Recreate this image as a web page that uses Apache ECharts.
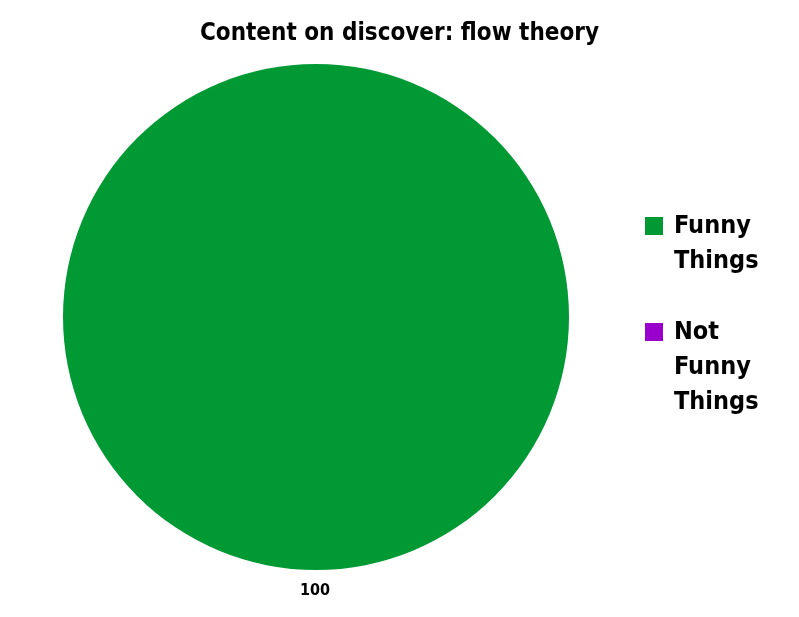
<!DOCTYPE html>
<html>
<head>
<meta charset="utf-8">
<script src="https://cdn.jsdelivr.net/npm/echarts@6/dist/echarts.min.js"></script>
<style>
  html, body { margin: 0; padding: 0; background: #fff; }
  #chart { width: 799px; height: 617px; }
</style>
</head>
<body>
<div id="chart"></div>
<script>
const FONT = "Impact, 'Liberation Sans Narrow', 'DejaVu Sans Condensed', sans-serif";

const categories = ["Funny Things", "Not Funny Things"];
const legendLines = [["Funny", "Things"], ["Not", "Funny", "Things"]];
const values = [100, 0];
const colors = ["#009933", "#9900cc"];

const LINE_H = 35;
// icon centre y for each legend entry
const legendCentres = [226, 332];

const chart = echarts.init(document.getElementById("chart"));

// legend text is centred on the square, so pad with blank lines above
// to put the square beside the first line
const legendLabel = (i) => {
    const lines = legendLines[i];
    const blanks = new Array(lines.length - 1).fill(" ");
    return blanks.concat(lines).join("\n");
};

const legends = categories.map((c, i) => {
    const total = legendLines[i].length * 2 - 1;
    return {
        orient: "vertical",
        left: 645,
        top: legendCentres[i] - (total * LINE_H) / 2,
        padding: 0,
        itemWidth: 18,
        itemHeight: 18,
        icon: "rect",
        align: "left",
        formatter: () => legendLabel(i),
        textStyle: {
            fontFamily: FONT,
            fontWeight: "bold",
            fontSize: 25,
            lineHeight: LINE_H,
            color: "#000",
            padding: [0, 0, 0, 6],
        },
        data: [c],
    };
});

chart.setOption({
    animation: false,
    title: {
        text: "Content on discover: flow theory",
        left: "center",
        top: 17,
        textStyle: {
            fontFamily: FONT,
            fontWeight: "bold",
            fontSize: 24,
            color: "#000",
        },
    },
    legend: legends,
    series: [
        {
            type: "pie",
            center: [316, 317],
            radius: 253,
            startAngle: 90,
            clockwise: true,
            avoidLabelOverlap: false,
            label: {
                show: true,
                position: "outside",
                formatter: "{c}",
                fontFamily: FONT,
                fontWeight: "bold",
                fontSize: 16,
                color: "#000",
            },
            labelLine: { show: false, length: 6, length2: 0 },
            labelLayout: { align: "center", dx: 4, dy: 15 },
            emphasis: { disabled: true },
            data: categories.map((c, i) => ({
                name: c,
                value: values[i],
                itemStyle: { color: colors[i] },
                label: { show: values[i] > 0 },
            })),
        },
    ],
});
</script>
</body>
</html>
